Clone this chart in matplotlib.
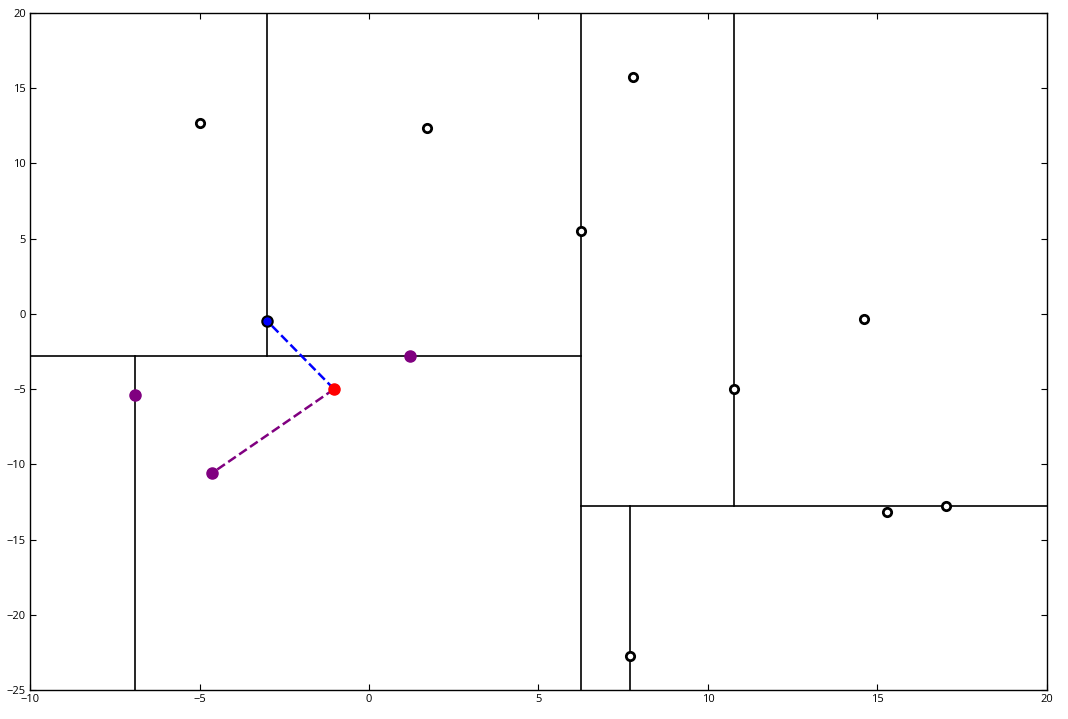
import matplotlib.pyplot as plt

plt.rcParams['font.family'] = ['Open Sans', 'DejaVu Sans']

# kd-tree points (hollow)
tree_x = [-5.0, 1.71, 7.79, 6.25, 14.6, 10.77, 15.28, 17.02, 7.7]
tree_y = [12.7, 12.35, 15.74, 5.5, -0.35, -5.0, -13.18, -12.78, -22.75]

# visited points (purple)
visit_x = [-6.9, 1.21, -4.63]
visit_y = [-5.4, -2.8, -10.58]

# nearest neighbour and query point
near_x, near_y = -3.0, -0.48
query_x, query_y = -1.03, -5.0

# split lines: (x, ymin, ymax) and (y, xmin, xmax)
vsplits = [(6.25, -25, 20), (-3.0, -2.8, 20), (-6.9, -25, -2.8),
           (10.77, -12.8, 20), (7.7, -25, -12.8)]
hsplits = [(-2.8, -10, 6.25), (-12.8, 6.25, 20)]

fig = plt.figure(figsize=(10.68, 7.19), dpi=100)
ax = fig.add_axes([0.0281, 0.0403, 0.9522, 0.9416])

for x, y0, y1 in vsplits:
    ax.plot([x, x], [y0, y1], color='black', lw=1.2, zorder=1)
for y, x0, x1 in hsplits:
    ax.plot([x0, x1], [y, y], color='black', lw=1.2, zorder=1)

# search paths
ax.plot([query_x, near_x], [query_y, near_y], '--', color='blue', lw=1.8, zorder=2)
ax.plot([query_x, visit_x[2]], [query_y, visit_y[2]], '--', color='purple', lw=1.8, zorder=2)

ax.plot(tree_x, tree_y, 'o', mfc='white', mec='black', mew=2, ms=6, ls='none', zorder=3)
ax.plot(visit_x, visit_y, 'o', color='purple', ms=8, ls='none', zorder=4)
ax.plot(near_x, near_y, 'o', mfc='blue', mec='black', mew=1.5, ms=7.5, zorder=4)
ax.plot(query_x, query_y, 'o', color='red', ms=8, zorder=4)

ax.set_xlim(-10, 20)
ax.set_ylim(-25, 20)
ax.set_xticks(range(-10, 21, 5))
ax.set_yticks(range(-25, 21, 5))
ax.tick_params(direction='in', top=True, right=True, labelsize=8, length=4, pad=3)
for s in ax.spines.values():
    s.set_linewidth(1.0)

fig.savefig('out.png', dpi=100, facecolor='white')
